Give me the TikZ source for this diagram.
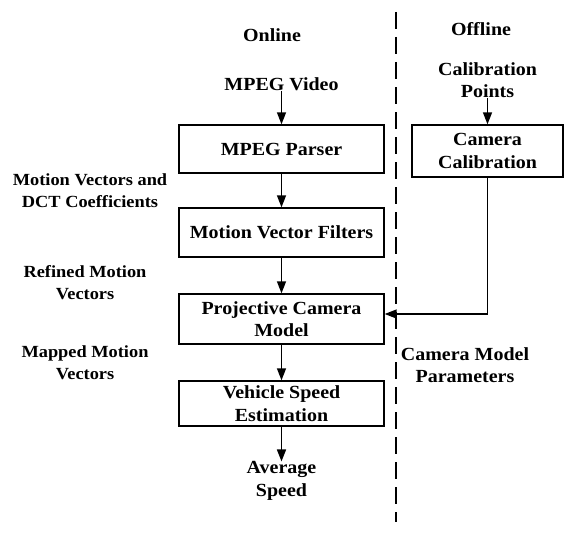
\documentclass[tikz,border=0pt]{standalone}
\usepackage{fontspec}
\setmainfont{Liberation Serif}[FakeStretch=1.08]
\usetikzlibrary{arrows.meta}
\begin{document}
\begin{tikzpicture}[x=1pt,y=-1pt]
            \tikzset{
	every node/.style={font=\bfseries\fontsize{18.5}{22.5}\selectfont, align=center, inner sep=0pt},
	side label/.style={font=\bfseries\fontsize{17}{22}\selectfont},
	block/.style={draw, line width=1.4pt, minimum width=205pt},
	flow/.style={draw, -{Triangle[length=12pt,width=9pt]}, line width=1.5pt},
	divider/.style={draw, line width=1.6pt, dash pattern=on 17pt off 8pt}
}
\useasboundingbox (0,0) rectangle (578,551);

% online side
\node (online) at (272,35) {Online};
\node (video) at (281.5,84) {MPEG Video};
\node[block, minimum height=48pt] (parser) at (281.5,149) {MPEG Parser};
\node[block, minimum height=49pt] (filters) at (281.5,232.5) {Motion Vector Filters};
\node[block, minimum height=50pt] (projective) at (281.5,319) {Projective Camera\\Model};
\node[block, minimum height=45pt] (speed) at (281.5,403.5) {Vehicle Speed\\Estimation};
\node (average) at (281.5,481) {Average\\Speed};

\node[side label] (mvdct) at (90,191) {Motion Vectors and\\DCT Coefficients};
\node[side label] (refined) at (85,283) {Refined Motion\\Vectors};
\node[side label] (mapped) at (85,363) {Mapped Motion\\Vectors};

% offline side
\node (offline) at (481,29) {Offline};
\node (points) at (487.5,80) {Calibration\\Points};
\node[block, minimum width=151pt, minimum height=52pt] (calib) at (487.5,151) {Camera\\Calibration};
\node (params) at (465,365) {Camera Model\\Parameters};

\draw[divider] (396,12) -- (396,522);

\draw[flow] (video) -- (parser);
\draw[flow] (parser) -- (filters);
\draw[flow] (filters) -- (projective);
\draw[flow] (projective) -- (speed);
\draw[flow] (speed) -- (average);
\draw[flow] (points) -- (calib);
\draw[flow] (calib.south) |- ([yshift=5pt]projective.east);
        \end{tikzpicture}
\end{document}
